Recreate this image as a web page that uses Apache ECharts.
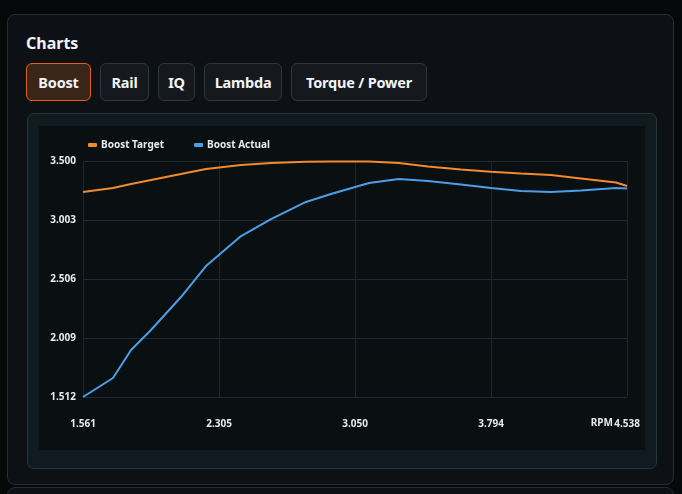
<!DOCTYPE html>
<html>
<head>
<meta charset="utf-8">
<script src="https://cdn.jsdelivr.net/npm/echarts@6/dist/echarts.min.js"></script>
<style>
  html, body {
    margin: 0;
    padding: 0;
    width: 682px;
    height: 494px;
    overflow: hidden;
    background: #06080a;
    font-family: 'Noto Sans', sans-serif;
    font-weight: bold;
    color: #f2f4f6;
  }
  .card {
    position: absolute;
    left: 7px;
    top: 14px;
    width: 667px;
    height: 471px;
    box-sizing: border-box;
    border: 1px solid #272d33;
    border-radius: 8px;
    background: #0d1116;
  }
  .card.next {
    top: 487px;
    height: 40px;
  }
  .title {
    position: absolute;
    left: 18px;
    top: 17px;
    font-size: 16px;
  }
  .tabs {
    position: absolute;
    left: 18px;
    top: 48px;
    display: flex;
    gap: 9px;
  }
  .tab {
    height: 38px;
    box-sizing: border-box;
    padding: 0;
    text-align: center;
    white-space: nowrap;
    line-height: 36px;
    font-size: 14.5px;
    letter-spacing: -0.2px;
    border: 1px solid #30353b;
    border-radius: 6px;
    background: #15191d;
  }
  .tab.active {
    border-color: #e2600f;
    background: #3a2519;
  }
  .panel {
    position: absolute;
    left: 19px;
    top: 98px;
    width: 630px;
    height: 356px;
    box-sizing: border-box;
    border: 1px solid #2b343b;
    border-radius: 7px;
    background: #111a20;
  }
  #chart {
    position: absolute;
    left: 11px;
    top: 12px;
    width: 606px;
    height: 324px;
  }
</style>
</head>
<body>
<div class="card">
  <div class="title">Charts</div>
  <div class="tabs">
    <div class="tab active" style="width:65px">Boost</div>
    <div class="tab" style="width:49px">Rail</div>
    <div class="tab" style="width:37px">IQ</div>
    <div class="tab" style="width:78px">Lambda</div>
    <div class="tab" style="width:136px">Torque / Power</div>
  </div>
  <div class="panel">
    <div id="chart"></div>
  </div>
</div>
<div class="card next"></div>
<script>
// RPM (x1000)
const rpm = [1.561, 1.725, 1.824, 1.933, 2.097, 2.234, 2.426, 2.590, 2.781, 2.918,
  3.126, 3.290, 3.449, 3.629, 3.794, 3.958, 4.122, 4.286, 4.478, 4.538]
const boostTarget = [3.239, 3.273, 3.306, 3.340, 3.390, 3.433, 3.466, 3.483, 3.494, 3.496,
  3.496, 3.483, 3.454, 3.428, 3.410, 3.395, 3.382, 3.353, 3.319, 3.289]
const boostActual = [1.512, 1.672, 1.908, 2.076, 2.354, 2.615, 2.868, 3.011, 3.155, 3.222,
  3.315, 3.348, 3.332, 3.302, 3.273, 3.247, 3.239, 3.251, 3.273, 3.268]

const xMin = 1.561, xMax = 4.538
const yMin = 1.512, yMax = 3.500

const labelFont = {
  color: '#e8eaec',
  fontSize: 10,
  fontWeight: 'bold',
  fontFamily: "'Noto Sans', sans-serif"
}

const pairs = (ys) => rpm.map((x, i) => [x, ys[i]])

const chart = echarts.init(document.getElementById('chart'))
chart.setOption({
  backgroundColor: '#0a0f12',
  animation: false,
  grid: { left: 44, right: 18, top: 35, bottom: 53, outerBoundsMode: 'none', containLabel: false },
  legend: {
    left: 44,
    top: 9,
    itemWidth: 9,
    itemHeight: 4,
    itemGap: 30,
    icon: 'roundRect',
    textStyle: { ...labelFont, padding: [0, 0, 0, -1] },
    data: ['Boost Target', 'Boost Actual']
  },
  xAxis: {
    type: 'value',
    min: xMin,
    max: xMax,
    interval: (xMax - xMin) / 4,
    name: 'RPM',
    nameLocation: 'end',
    nameGap: -14,
    nameMoveOverlap: false,
    nameTextStyle: { ...labelFont, align: 'right', verticalAlign: 'top', padding: [21, 0, 0, 0] },
    axisLine: { show: false },
    axisTick: { show: false },
    axisLabel: { ...labelFont, margin: 22, formatter: (v) => v.toFixed(3) },
    splitLine: { show: true, lineStyle: { color: '#1f262b', width: 1 } }
  },
  yAxis: {
    type: 'value',
    min: yMin,
    max: yMax,
    interval: (yMax - yMin) / 4,
    axisLine: { show: false },
    axisTick: { show: false },
    axisLabel: { ...labelFont, margin: 7, formatter: (v) => v.toFixed(3) },
    splitLine: { show: true, lineStyle: { color: '#222a30', width: 1 } }
  },
  series: [
    {
      name: 'Boost Target',
      type: 'line',
      data: pairs(boostTarget),
      showSymbol: false,
      color: '#f28a2e',
      lineStyle: { width: 2 }
    },
    {
      name: 'Boost Actual',
      type: 'line',
      data: pairs(boostActual),
      showSymbol: false,
      color: '#4a9fe8',
      lineStyle: { width: 2 }
    }
  ]
})
</script>
</body>
</html>
